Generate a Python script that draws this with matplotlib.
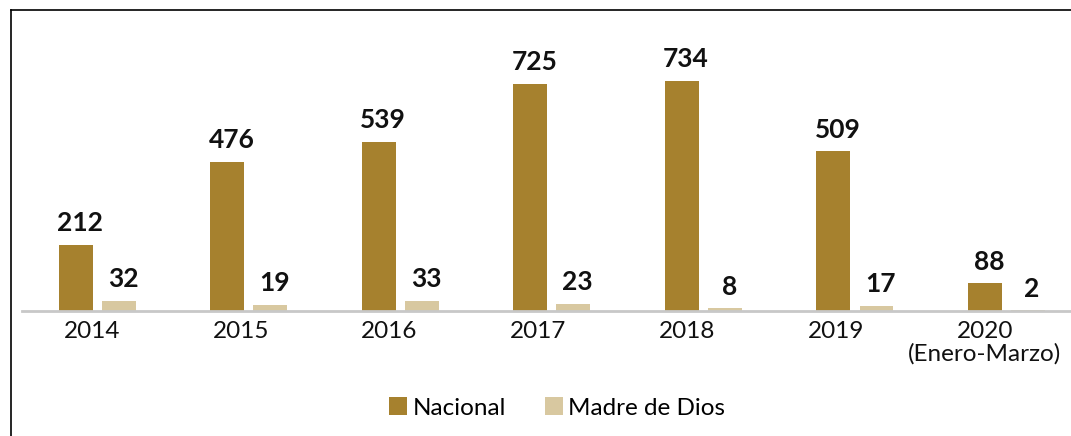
import matplotlib.pyplot as plt
from matplotlib.lines import Line2D
import numpy as np

# data
years = ['2014', '2015', '2016', '2017', '2018', '2019', '2020\n(Enero-Marzo)']
nacional = [212, 476, 539, 725, 734, 509, 88]
madre_de_dios = [32, 19, 33, 23, 8, 17, 2]

col_nac = '#A6812E'
col_mdd = '#D8C8A0'

plt.rcParams['font.family'] = ['Lato', 'DejaVu Sans']

fig = plt.figure(figsize=(10.71, 4.36), dpi=100)
ax = fig.add_axes([22 / 1071, 1 - 311 / 436, 1 - 22 / 1071, 291 / 436])

x = np.arange(len(years))
w = 0.224
off = 0.142
b1 = ax.bar(x - off, nacional, w, color=col_nac, label='Nacional')
b2 = ax.bar(x + off, madre_de_dios, w, color=col_mdd, label='Madre de Dios')

for bars in (b1, b2):
    for r in bars:
        ax.annotate(str(int(r.get_height())),
                    (r.get_x() + r.get_width() / 2, r.get_height()),
                    xytext=(3, 7), textcoords='offset points',
                    ha='center', va='bottom', fontsize=19, fontweight='bold',
                    color='#111111')

ax.set_xlim(-0.498, 6.426)
ax.set_ylim(0, 928)
# labels in the original sit on a slightly tighter spacing than the bars
ax.set_xticks(x * 0.982 - 0.036)
ax.set_xticklabels(years, fontsize=17.5, color='#111111', linespacing=1.05)
ax.tick_params(axis='x', length=0, pad=7)
ax.set_yticks([])
for s in ['top', 'right', 'left']:
    ax.spines[s].set_visible(False)
ax.spines['bottom'].set_color('#C8C8C8')
ax.spines['bottom'].set_linewidth(2)

fig.legend(handles=[b1, b2], loc='center', bbox_to_anchor=(0.52, 1 - 408 / 436),
           ncol=2, frameon=False, fontsize=17.5, handlelength=0.75,
           handleheight=0.75, handletextpad=0.2, columnspacing=1.6)

# frame lines around the figure (left and top)
fig.add_artist(Line2D([11 / 1071, 11 / 1071], [0, 1 - 10 / 436], color='black', lw=1.2))
fig.add_artist(Line2D([11 / 1071, 1], [1 - 10 / 436, 1 - 10 / 436], color='black', lw=1.2))

fig.savefig('out.png', dpi=100)
